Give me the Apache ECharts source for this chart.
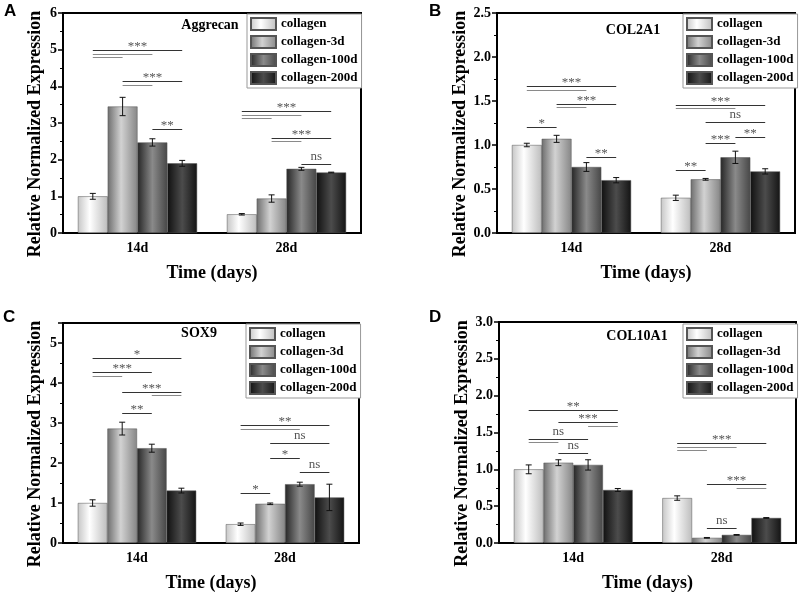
<!DOCTYPE html>
<html>
<head>
<meta charset="utf-8">
<script src="https://cdn.jsdelivr.net/npm/echarts@6/dist/echarts.min.js"></script>
<style>
  html, body { margin: 0; padding: 0; background: #fff; }
  #chart { width: 800px; height: 596px; }
</style>
</head>
<body>
<div id="chart"></div>
<script>
const categories = ['14d', '28d'];
const seriesNames = ['collagen', 'collagen-3d', 'collagen-100d', 'collagen-200d'];

// rows = series (collagen, -3d, -100d, -200d), columns = 14d, 28d
const aggrecanMean = [[1.00, 0.51], [3.45, 0.94], [2.47, 1.75], [1.90, 1.65]];
const aggrecanErr  = [[0.08, 0.02], [0.25, 0.10], [0.10, 0.04], [0.08, 0.01]];
const col2a1Mean = [[1.00, 0.40], [1.07, 0.61], [0.75, 0.86], [0.60, 0.70]];
const col2a1Err  = [[0.02, 0.03], [0.04, 0.01], [0.05, 0.07], [0.03, 0.03]];
const sox9Mean = [[1.00, 0.47], [2.86, 0.98], [2.37, 1.47], [1.31, 1.14]];
const sox9Err  = [[0.08, 0.03], [0.16, 0.02], [0.10, 0.05], [0.06, 0.33]];
const col10a1Mean = [[1.00, 0.61], [1.09, 0.07], [1.06, 0.11], [0.72, 0.34]];
const col10a1Err  = [[0.06, 0.03], [0.04, 0.005], [0.07, 0.005], [0.02, 0.005]];

// significance brackets: [category, from bar, to bar, height, label]
const aggrecanSig = [
  [0, 0, 3, 4.98, '***'], [0, 0, 2, 4.89, ''], [0, 0, 1, 4.79, ''],
  [0, 1, 3, 4.14, '***'], [0, 1, 2, 4.05, ''],
  [0, 2, 3, 2.85, '**'],
  [1, 0, 3, 3.34, '***'], [1, 0, 2, 3.23, ''], [1, 0, 1, 3.14, ''],
  [1, 1, 3, 2.59, '***'], [1, 1, 2, 2.50, ''],
  [1, 2, 3, 1.89, 'ns']
];
const col2a1Sig = [
  [0, 0, 3, 1.667, '***'], [0, 0, 2, 1.63, ''],
  [0, 1, 3, 1.47, '***'], [0, 1, 2, 1.43, ''],
  [0, 0, 1, 1.21, '*'],
  [0, 2, 3, 0.864, '**'],
  [1, 0, 3, 1.455, '***'], [1, 0, 2, 1.417, ''],
  [1, 1, 3, 1.258, 'ns'],
  [1, 2, 3, 1.087, '**'],
  [1, 1, 2, 1.023, '***'],
  [1, 0, 1, 0.72, '**']
];
const sox9Sig = [
  [0, 0, 3, 4.63, '*'],
  [0, 0, 2, 4.275, '***'], [0, 0, 1, 4.175, ''],
  [0, 1, 3, 3.78, '***'], [0, 2, 3, 3.69, ''],
  [0, 1, 2, 3.24, '**'],
  [1, 0, 3, 2.96, '**'], [1, 0, 2, 2.86, ''],
  [1, 1, 3, 2.51, 'ns'],
  [1, 1, 2, 2.12, '*'],
  [1, 2, 3, 1.77, 'ns'],
  [1, 0, 1, 1.24, '*']
];
const col10a1Sig = [
  [0, 0, 3, 1.81, '**'],
  [0, 1, 3, 1.638, '***'], [0, 2, 3, 1.593, ''],
  [0, 0, 2, 1.41, 'ns'], [0, 0, 1, 1.367, ''],
  [0, 1, 2, 1.217, 'ns'],
  [1, 0, 3, 1.357, '***'], [1, 0, 2, 1.308, ''], [1, 0, 1, 1.262, ''],
  [1, 1, 3, 0.796, '***'], [1, 2, 3, 0.742, ''],
  [1, 1, 2, 0.204, 'ns']
];

const SERIF = 'Liberation Serif';

const barColors = [
  [['#c6c6c6', 0], ['#ffffff', 0.4], ['#bdbdbd', 1]],
  [['#6e6e6e', 0], ['#d2d2d2', 0.45], ['#868686', 1]],
  [['#262626', 0], ['#8a8a8a', 0.5], ['#474747', 1]],
  [['#101010', 0], ['#4c4c4c', 0.5], ['#141414', 1]]
];
function gradient(stops) {
  return new echarts.graphic.LinearGradient(0, 0, 1, 0,
    stops.map(s => ({ offset: s[1], color: s[0] })));
}

const panels = [
  { letter: 'A', gene: 'Aggrecan', mean: aggrecanMean, err: aggrecanErr, sig: aggrecanSig,
    grid: { left: 63, top: 13, width: 298, height: 220 }, max: 6, interval: 1, digits: 0,
    legend: { left: 247, top: 14 }, geneAt: [210, 25], letterAt: [4, 3] },
  { letter: 'B', gene: 'COL2A1', mean: col2a1Mean, err: col2a1Err, sig: col2a1Sig,
    grid: { left: 497, top: 13, width: 298, height: 220 }, max: 2.5, interval: 0.5, digits: 1,
    legend: { left: 683, top: 14 }, geneAt: [633, 30], letterAt: [429, 3] },
  { letter: 'C', gene: 'SOX9', mean: sox9Mean, err: sox9Err, sig: sox9Sig,
    grid: { left: 63, top: 323, width: 296, height: 220 }, max: 5.5, interval: 1, digits: 0,
    legend: { left: 246, top: 324 }, geneAt: [199, 333], letterAt: [3, 309] },
  { letter: 'D', gene: 'COL10A1', mean: col10a1Mean, err: col10a1Err, sig: col10a1Sig,
    grid: { left: 499, top: 322, width: 297, height: 221 }, max: 3, interval: 0.5, digits: 1,
    legend: { left: 683, top: 324 }, geneAt: [637, 336], letterAt: [429, 309] }
];

function barX(api, cat, bar) {
  const w = api.size([1, 0])[0];
  return api.coord([cat, 0])[0] + (bar - 1.5) * 0.2 * w;
}

function errorRenderer(list) {
  return function (params, api) {
    const d = list[params.dataIndex];
    const x = barX(api, d[0], d[3]);
    const yTop = api.coord([d[0], d[1] + d[2]])[1];
    const yBot = api.coord([d[0], d[1] - d[2]])[1];
    const st = { stroke: '#111', lineWidth: 1 };
    return {
      type: 'group',
      children: [
        { type: 'line', shape: { x1: x, y1: yTop, x2: x, y2: yBot }, style: st },
        { type: 'line', shape: { x1: x - 3, y1: yTop, x2: x + 3, y2: yTop }, style: st },
        { type: 'line', shape: { x1: x - 3, y1: yBot, x2: x + 3, y2: yBot }, style: st }
      ]
    };
  };
}

function sigRenderer(list) {
  return function (params, api) {
    const d = list[params.dataIndex];
    const x1 = barX(api, d[0], d[1]);
    const x2 = barX(api, d[0], d[2]);
    const y = Math.round(api.coord([d[0], d[3]])[1]) + 0.5;
    const label = d[4];
    const children = [{
      type: 'line', shape: { x1: x1, y1: y, x2: x2, y2: y },
      style: { stroke: label ? '#333' : '#8a8a8a', lineWidth: 1 }
    }];
    if (label) {
      const stars = label.indexOf('*') >= 0;
      children.push({
        type: 'text', x: (x1 + x2) / 2, y: stars ? y + 3 : y - 1,
        style: {
          text: label, fill: '#555', font: (stars ? '13px ' : '13px ') + SERIF,
          textAlign: 'center', textVerticalAlign: 'bottom'
        }
      });
    }
    return { type: 'group', children: children };
  };
}

const option = {
  animation: false,
  backgroundColor: '#fff',
  grid: [], xAxis: [], yAxis: [], series: [], legend: [], graphic: []
};

panels.forEach((p, gi) => {
  option.grid.push(Object.assign({ show: true, borderColor: '#000', borderWidth: 2 }, p.grid));
  option.xAxis.push({
    type: 'category', gridIndex: gi, data: categories,
    name: 'Time (days)', nameLocation: 'middle', nameGap: 31,
    nameTextStyle: { fontFamily: SERIF, fontWeight: 'bold', fontSize: 18, color: '#000' },
    axisLine: { lineStyle: { color: '#000', width: 2 } },
    axisTick: { length: 5, lineStyle: { color: '#000', width: 1.5 } },
    axisLabel: { fontFamily: SERIF, fontWeight: 'bold', fontSize: 14, color: '#000', margin: 8 }
  });
  option.yAxis.push({
    type: 'value', gridIndex: gi, min: 0, max: p.max, interval: p.interval,
    name: 'Relative Normalized Expression', nameLocation: 'middle', nameGap: 19,
    nameTextStyle: { fontFamily: SERIF, fontWeight: 'bold', fontSize: 18, color: '#000', padding: [0, 22, 0, 0] },
    splitLine: { show: false },
    axisLine: { show: true, lineStyle: { color: '#000', width: 2 } },
    axisTick: { show: true, length: 5, lineStyle: { color: '#000', width: 1.5 } },
    minorTick: { show: true, splitNumber: 2, length: 3, lineStyle: { color: '#000', width: 1 } },
    axisLabel: {
      fontFamily: SERIF, fontWeight: 'bold', fontSize: 14, color: '#000', margin: 6,
      showMaxLabel: p.max % p.interval === 0,
      formatter: v => v.toFixed(p.digits)
    }
  });
  seriesNames.forEach((name, si) => {
    option.series.push({
      type: 'bar', name: name, xAxisIndex: gi, yAxisIndex: gi,
      data: p.mean[si], barCategoryGap: '20%', barGap: '0%',
      itemStyle: { color: gradient(barColors[si]), borderColor: '#555', borderWidth: 0.5 }
    });
  });
  const errList = [];
  p.mean.forEach((row, si) => row.forEach((m, ci) => errList.push([ci, m, p.err[si][ci], si])));
  option.series.push({
    type: 'custom', xAxisIndex: gi, yAxisIndex: gi, z: 5, silent: true,
    renderItem: errorRenderer(errList),
    encode: { x: 0, y: 1 },
    data: errList.map(d => [d[0], d[1] + d[2]])
  });
  option.series.push({
    type: 'custom', xAxisIndex: gi, yAxisIndex: gi, z: 6, silent: true,
    renderItem: sigRenderer(p.sig),
    encode: { x: 0, y: 1 },
    data: p.sig.map(d => [d[0], d[3]])
  });
  option.legend.push({
    data: seriesNames, orient: 'vertical', left: p.legend.left, top: p.legend.top,
    selectedMode: false, icon: 'rect', itemWidth: 25, itemHeight: 12, itemGap: 4,
    padding: [3, 4, 3, 3], borderColor: '#999', borderWidth: 1, backgroundColor: '#fff',
    textStyle: { fontFamily: SERIF, fontWeight: 'bold', fontSize: 13, color: '#000' }
  });
  option.graphic.push({
    type: 'text', x: p.geneAt[0], y: p.geneAt[1],
    style: { text: p.gene, font: 'bold 14px ' + SERIF, fill: '#000', textAlign: 'center', textVerticalAlign: 'middle' }
  });
  option.graphic.push({
    type: 'text', x: p.letterAt[0], y: p.letterAt[1],
    style: { text: p.letter, font: 'bold 17px "Liberation Sans"', fill: '#000', textAlign: 'left', textVerticalAlign: 'top' }
  });
});

const chart = echarts.init(document.getElementById('chart'));
chart.setOption(option);
</script>
</body>
</html>
